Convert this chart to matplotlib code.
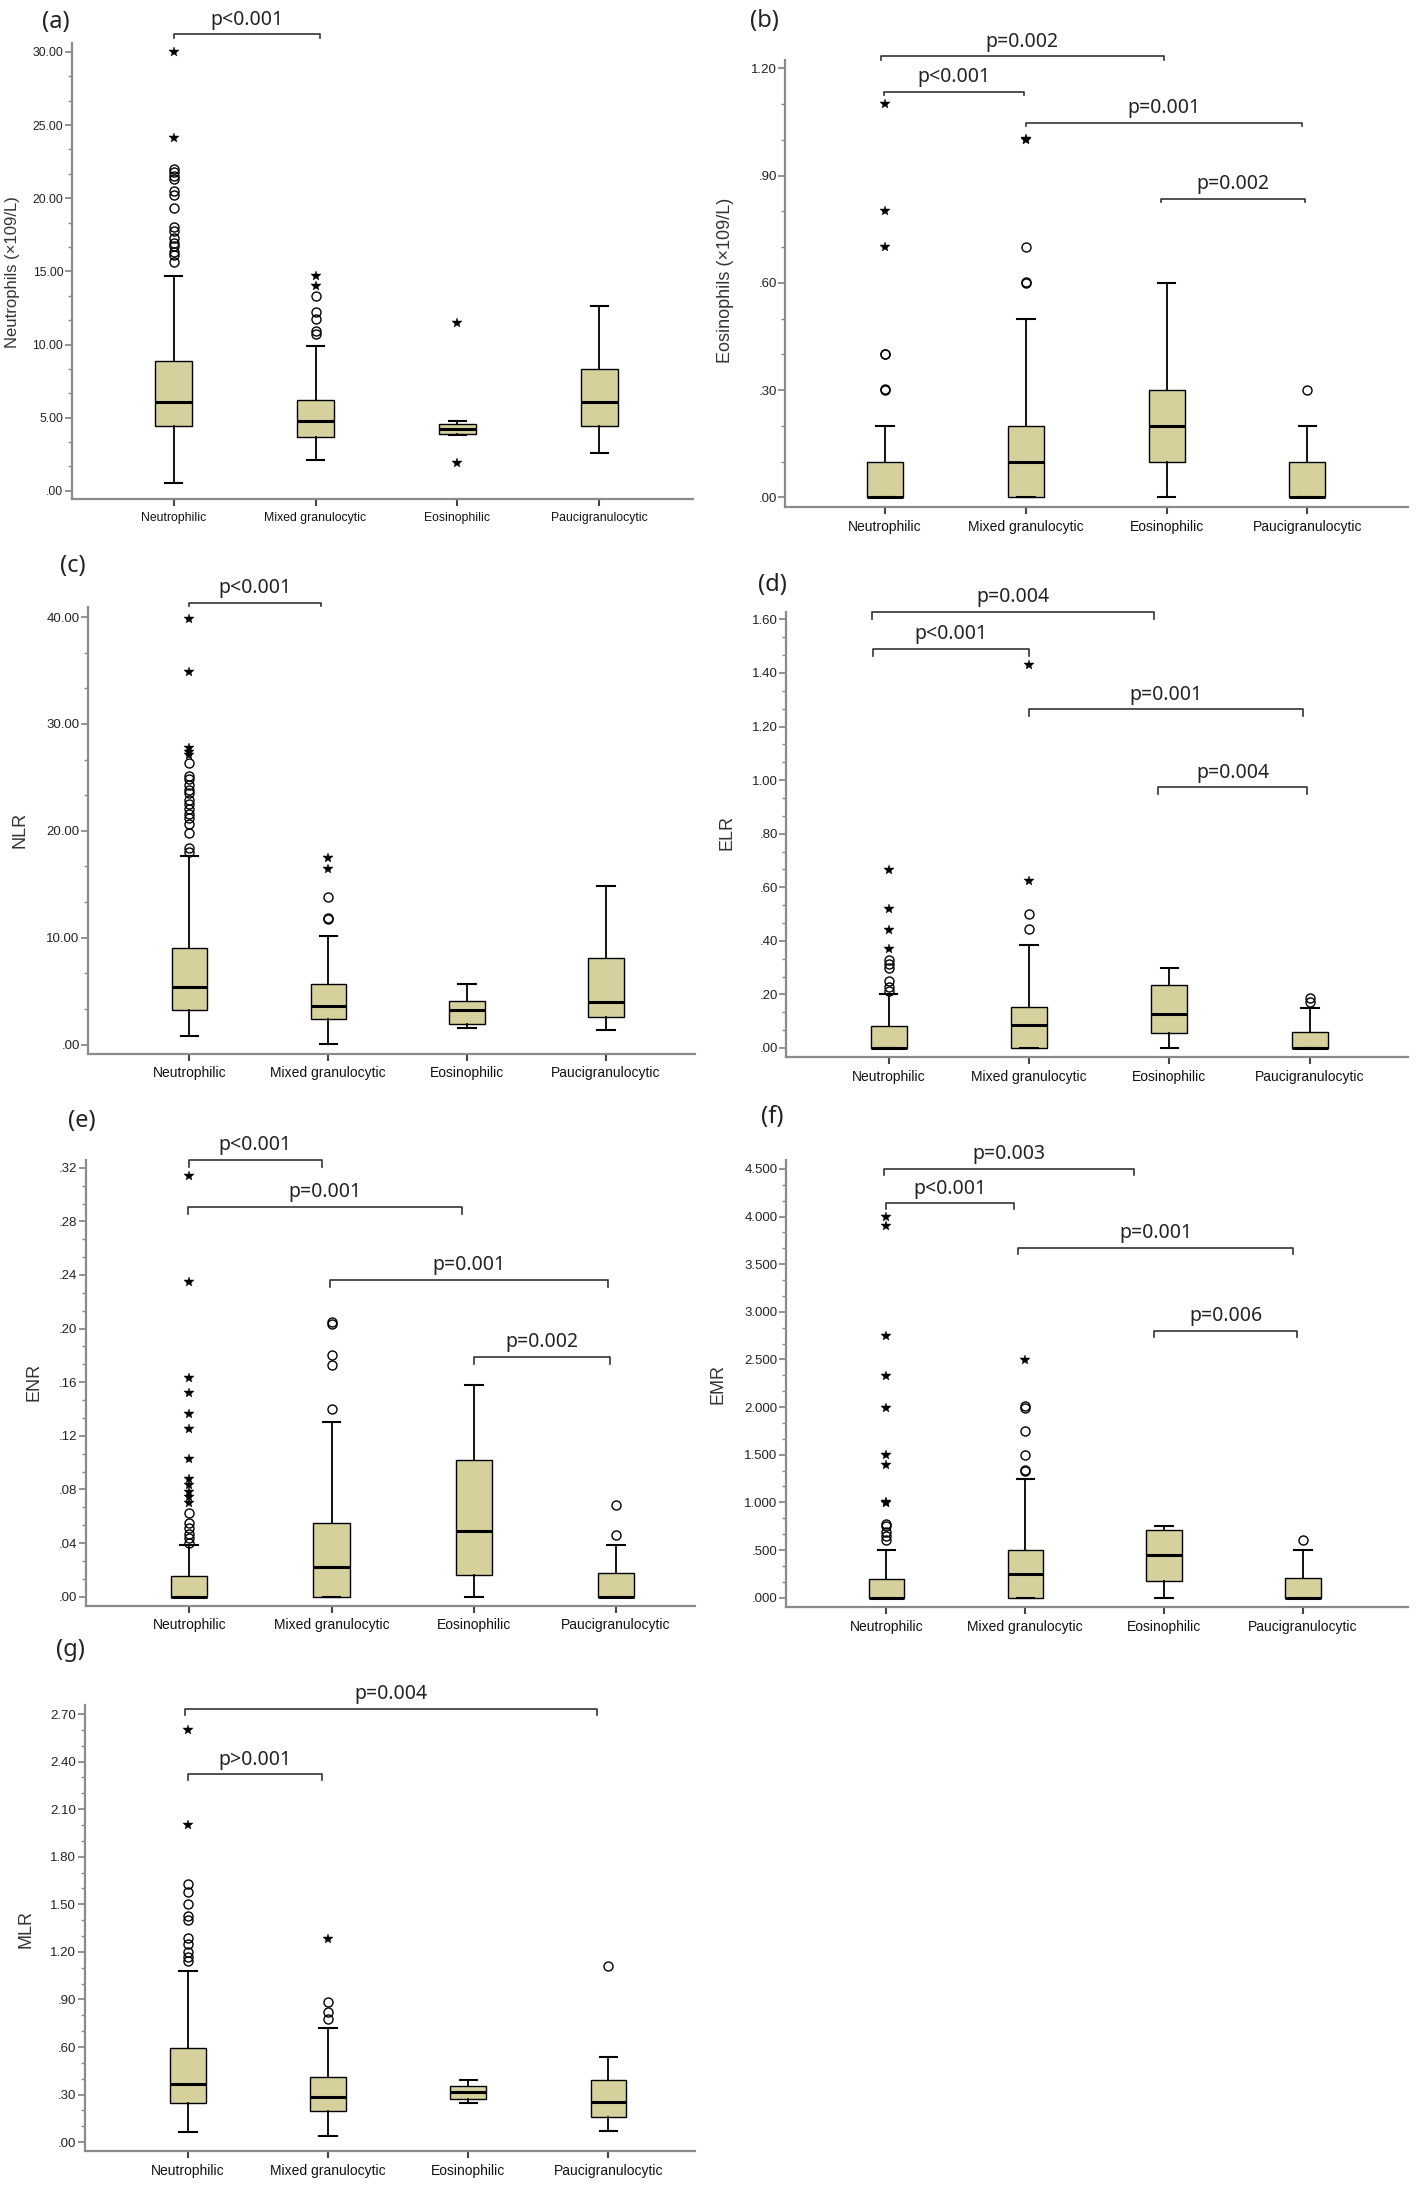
import matplotlib
matplotlib.use("Agg")
import matplotlib.pyplot as plt
from matplotlib.ticker import AutoMinorLocator

plt.rcParams["font.family"] = ["Liberation Sans", "DejaVu Sans"]

W, H, DPI = 1418, 2185, 100
BOX_COLOR = "#d5d09c"
AXIS_GRAY = "#8a8a8a"
P_FONT = ["Noto Sans", "DejaVu Sans"]

groups = ["Neutrophilic", "Mixed granulocytic", "Eosinophilic", "Paucigranulocytic"]

# box stats per group: whisker low, Q1, median, Q3, whisker high
neu_box = [[0.52, 4.4, 6.1, 8.9, 14.7], [2.1, 3.7, 4.8, 6.2, 9.9],
           [3.8, 3.9, 4.2, 4.6, 4.8], [2.6, 4.4, 6.05, 8.35, 12.6]]
neu_circles = [[15.65, 16.1, 16.35, 16.7, 16.95, 17.3, 17.75, 18.0, 19.3, 20.2,
                20.5, 21.3, 21.5, 21.8, 22.0], [10.7, 10.95, 11.75, 12.2, 13.3], [], []]
neu_stars = [[24.1, 30.0], [14.0, 14.7], [11.5, 1.9], []]
neu_ticks = [0, 5, 10, 15, 20, 25, 30]
neu_ticklabels = [".00", "5.00", "10.00", "15.00", "20.00", "25.00", "30.00"]
neu_pvals = [(1, 2.03, 31.2, "p<0.001")]

eos_box = [[0, 0, 0, 0.10, 0.20], [0, 0, 0.10, 0.20, 0.50],
           [0, 0.10, 0.20, 0.30, 0.60], [0, 0, 0, 0.10, 0.20]]
eos_circles = [[0.30, 0.302, 0.40, 0.402], [0.60, 0.602, 0.70], [], [0.30]]
eos_stars = [[0.70, 0.80, 1.10], [1.0, 1.002], [], []]
eos_ticks = [0, 0.3, 0.6, 0.9, 1.2]
eos_ticklabels = [".00", ".30", ".60", ".90", "1.20"]
eos_pvals = [(0.97, 2.98, 1.234, "p=0.002"), (0.99, 1.99, 1.134, "p<0.001"),
             (2.0, 3.96, 1.048, "p=0.001"), (2.96, 3.98, 0.835, "p=0.002")]

nlr_box = [[0.81, 3.25, 5.4, 9.04, 17.66], [0.1, 2.44, 3.58, 5.63, 10.18],
           [1.56, 1.89, 3.28, 4.1, 5.7], [1.4, 2.6, 4.0, 8.13, 14.8]]
nlr_circles = [[18.05, 18.37, 19.77, 20.6, 21.2, 21.6, 22.05, 22.5, 22.9, 23.5,
                23.8, 24.3, 24.8, 25.1, 26.3], [11.74, 11.87, 13.8], [], []]
nlr_stars = [[27.1, 27.4, 27.7, 34.9, 39.8], [16.4, 17.5], [], []]
nlr_ticks = [0, 10, 20, 30, 40]
nlr_ticklabels = [".00", "10.00", "20.00", "30.00", "40.00"]
nlr_pvals = [(1, 1.95, 41.33, "p<0.001")]

elr_box = [[0, 0, 0, 0.082, 0.20], [0, 0, 0.084, 0.152, 0.384],
           [0, 0.056, 0.127, 0.234, 0.30], [0, 0, 0, 0.06, 0.149]]
elr_circles = [[0.214, 0.227, 0.25, 0.30, 0.315, 0.33], [0.443, 0.50], [], [0.173, 0.188]]
elr_stars = [[0.37, 0.44, 0.52, 0.666], [0.624, 1.43], [], []]
elr_ticks = [0, 0.2, 0.4, 0.6, 0.8, 1.0, 1.2, 1.4, 1.6]
elr_ticklabels = [".00", ".20", ".40", ".60", ".80", "1.00", "1.20", "1.40", "1.60"]
elr_pvals = [(0.88, 2.89, 1.628, "p=0.004"), (0.89, 2.0, 1.49, "p<0.001"),
             (2.0, 3.95, 1.265, "p=0.001"), (2.92, 3.98, 0.973, "p=0.004")]

enr_box = [[0, 0, 0, 0.0154, 0.0386], [0, 0, 0.0224, 0.055, 0.130],
           [0, 0.016, 0.0486, 0.102, 0.158], [0, 0, 0, 0.0177, 0.0383]]
enr_circles = [[0.040, 0.044, 0.047, 0.051, 0.055, 0.0627],
               [0.14, 0.173, 0.18, 0.2036, 0.205], [], [0.046, 0.068]]
enr_stars = [[0.070, 0.074, 0.078, 0.083, 0.088, 0.103, 0.125, 0.136, 0.152,
              0.163, 0.235, 0.314], [], [], []]
enr_ticks = [0, 0.04, 0.08, 0.12, 0.16, 0.20, 0.24, 0.28, 0.32]
enr_ticklabels = [".00", ".04", ".08", ".12", ".16", ".20", ".24", ".28", ".32"]
enr_pvals = [(1, 1.93, 0.3258, "p<0.001"), (0.99, 2.92, 0.2909, "p=0.001"),
             (1.99, 3.94, 0.2364, "p=0.001"), (3.0, 3.96, 0.179, "p=0.002")]

emr_box = [[0, 0, 0, 0.2, 0.5], [0, 0, 0.246, 0.495, 1.247],
           [0, 0.17, 0.444, 0.705, 0.748], [0, 0, 0, 0.206, 0.5]]
emr_circles = [[0.6, 0.65, 0.69, 0.75, 0.77], [1.33, 1.344, 1.5, 1.745, 1.995, 2.013], [], [0.6]]
emr_stars = [[0.99, 1.0, 1.39, 1.5, 1.995, 2.33, 2.75, 3.9, 4.0], [2.494], [], []]
emr_ticks = [0, 0.5, 1.0, 1.5, 2.0, 2.5, 3.0, 3.5, 4.0, 4.5]
emr_ticklabels = [".000", ".500", "1.000", "1.500", "2.000", "2.500",
                  "3.000", "3.500", "4.000", "4.500"]
emr_pvals = [(0.98, 2.78, 4.5, "p=0.003"), (1.0, 1.92, 4.139, "p<0.001"),
             (1.95, 3.93, 3.67, "p=0.001"), (2.93, 3.96, 2.80, "p=0.006")]

mlr_box = [[0.065, 0.248, 0.368, 0.596, 1.08], [0.038, 0.199, 0.288, 0.413, 0.723],
           [0.245, 0.272, 0.317, 0.355, 0.395], [0.071, 0.16, 0.254, 0.395, 0.54]]
mlr_circles = [[1.143, 1.165, 1.2, 1.247, 1.288, 1.4, 1.426, 1.5, 1.578, 1.627],
               [0.779, 0.823, 0.886], [], [1.109]]
mlr_stars = [[2.0, 2.6], [1.283], [], []]
mlr_ticks = [0, 0.3, 0.6, 0.9, 1.2, 1.5, 1.8, 2.1, 2.4, 2.7]
mlr_ticklabels = [".00", ".30", ".60", ".90", "1.20", "1.50", "1.80", "2.10", "2.40", "2.70"]
mlr_pvals = [(0.98, 3.92, 2.734, "p=0.004"), (1.0, 1.96, 2.319, "p>0.001")]

# panel layout in pixels: axes (left, top, right, bottom), limits, letter and ylabel positions
panels = [
    dict(tag="(a)", ylabel="Neutrophils (\u00d7109/L)", box=neu_box, circles=neu_circles,
         stars=neu_stars, ticks=neu_ticks, ticklabels=neu_ticklabels, pvals=neu_pvals,
         rect=(71.6, 43, 693, 499), xlim=(0.282, 4.659), ylim=(-0.56, 30.61),
         letter=(56, 22), ylab=(13, 272), drop=4, small=True),
    dict(tag="(b)", ylabel="Eosinophils (\u00d7109/L)", box=eos_box, circles=eos_circles,
         stars=eos_stars, ticks=eos_ticks, ticklabels=eos_ticklabels, pvals=eos_pvals,
         rect=(785, 59.6, 1408, 507), xlim=(0.290, 4.714), ylim=(-0.0269, 1.2246),
         letter=(764, 21), ylab=(725, 280), drop=3.5, small=False),
    dict(tag="(c)", ylabel="NLR", box=nlr_box, circles=nlr_circles,
         stars=nlr_stars, ticks=nlr_ticks, ticklabels=nlr_ticklabels, pvals=nlr_pvals,
         rect=(88, 607.4, 695, 1054), xlim=(0.271, 4.64), ylim=(-0.88, 40.9),
         letter=(72.6, 565.6), ylab=(19.8, 830), drop=3.5, small=False),
    dict(tag="(d)", ylabel="ELR", box=elr_box, circles=elr_circles,
         stars=elr_stars, ticks=elr_ticks, ticklabels=elr_ticklabels, pvals=elr_pvals,
         rect=(786, 611.9, 1408, 1057.5), xlim=(0.2685, 4.70), ylim=(-0.0355, 1.628),
         letter=(772.6, 584.8), ylab=(727, 833), drop=7, small=False),
    dict(tag="(e)", ylabel="ENR", box=enr_box, circles=enr_circles,
         stars=enr_stars, ticks=enr_ticks, ticklabels=enr_ticklabels, pvals=enr_pvals,
         rect=(85.8, 1160, 695, 1605.6), xlim=(0.273, 4.555), ylim=(-0.0067, 0.3258),
         letter=(81.4, 1120.7), ylab=(34.3, 1382), drop=7, small=False),
    dict(tag="(f)", ylabel="EMR", box=emr_box, circles=emr_circles,
         stars=emr_stars, ticks=emr_ticks, ticklabels=emr_ticklabels, pvals=emr_pvals,
         rect=(786, 1160, 1408, 1607), xlim=(0.277, 4.757), ylim=(-0.098, 4.593),
         letter=(772.6, 1117.2), ylab=(718, 1384), drop=6, small=False),
    dict(tag="(g)", ylabel="MLR", box=mlr_box, circles=mlr_circles,
         stars=mlr_stars, ticks=mlr_ticks, ticklabels=mlr_ticklabels, pvals=mlr_pvals,
         rect=(84.5, 1705, 695, 2151), xlim=(0.2625, 4.617), ylim=(-0.0555, 2.757),
         letter=(70.4, 1649.5), ylab=(26.4, 1929), drop=6, small=False),
]

fig = plt.figure(figsize=(W / DPI, H / DPI), dpi=DPI)
pos = [1, 2, 3, 4]

for p in panels:
    l, t, r, b = p["rect"]
    ax = fig.add_axes([l / W, 1 - b / H, (r - l) / W, (b - t) / H])
    ax.set_xlim(*p["xlim"])
    ax.set_ylim(*p["ylim"])

    stats = [dict(whislo=v[0], q1=v[1], med=v[2], q3=v[3], whishi=v[4], fliers=[])
             for v in p["box"]]
    ax.bxp(stats, positions=pos, widths=0.255, capwidths=0.125, patch_artist=True,
           showfliers=False,
           boxprops=dict(facecolor=BOX_COLOR, edgecolor="black", linewidth=1.0),
           medianprops=dict(color="black", linewidth=2.2, solid_capstyle="butt"),
           whiskerprops=dict(color="black", linewidth=1.3),
           capprops=dict(color="black", linewidth=1.5))

    for i, vals in enumerate(p["circles"]):
        if vals:
            ax.plot([pos[i]] * len(vals), vals, "o", ms=6.5, mfc="none", mec="black",
                    mew=1.0, clip_on=False, zorder=4)
    for i, vals in enumerate(p["stars"]):
        if vals:
            ax.plot([pos[i]] * len(vals), vals, "*", ms=7, color="black",
                    mew=0.3, clip_on=False, zorder=4)

    # significance brackets
    px_per_unit = (b - t) / (p["ylim"][1] - p["ylim"][0])
    dd = p["drop"] / px_per_unit
    for x1, x2, yv, txt in p["pvals"]:
        ax.plot([x1, x1, x2, x2], [yv - dd, yv, yv, yv - dd], color="#333333",
                lw=1.2, clip_on=False, zorder=5)
        ax.annotate(txt, ((x1 + x2) / 2, yv), xytext=(0, 10.5), textcoords="offset points",
                    ha="center", va="center", fontsize=14, family=P_FONT,
                    color="#222222", annotation_clip=False)

    ax.set_xticks(pos)
    ax.set_xticklabels(groups, fontsize=8.8 if p["small"] else 10)
    ax.set_yticks(p["ticks"])
    ax.set_yticklabels(p["ticklabels"], fontsize=8.8 if p["small"] else 9.5)
    ax.yaxis.set_minor_locator(AutoMinorLocator(3))

    for side in ("top", "right"):
        ax.spines[side].set_visible(False)
    for side in ("left", "bottom"):
        ax.spines[side].set_color(AXIS_GRAY)
        ax.spines[side].set_linewidth(1.6)
    ax.tick_params(axis="x", which="major", length=5, width=1.5, color="#444444",
                   pad=4, labelcolor="#111111")
    ax.tick_params(axis="x", which="minor", length=0)
    ax.tick_params(axis="y", which="major", length=5, width=1.3, color=AXIS_GRAY,
                   pad=1, labelcolor="#222222")
    ax.tick_params(axis="y", which="minor", length=3, width=1.0, color=AXIS_GRAY)

    fig.text(p["ylab"][0] / W, 1 - p["ylab"][1] / H, p["ylabel"], rotation=90,
             ha="center", va="center", fontsize=12 if p["small"] else 13, color="#333333")
    fig.text(p["letter"][0] / W, 1 - p["letter"][1] / H, p["tag"], ha="center",
             va="center", fontsize=17, family=P_FONT, color="#222222")

fig.savefig("out.png", dpi=DPI)
